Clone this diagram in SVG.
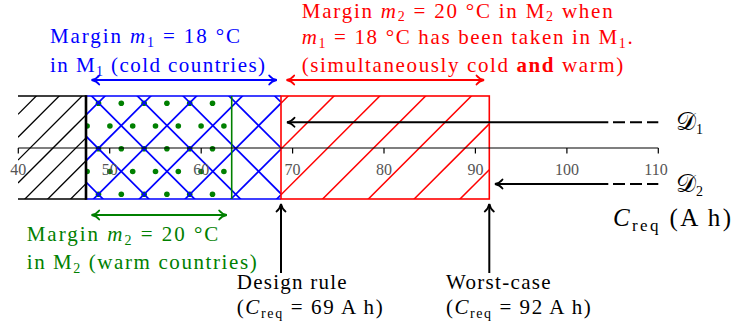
<svg xmlns="http://www.w3.org/2000/svg" width="734" height="332" viewBox="0 0 734 332">
<style>
.t{font-size:21px}
.i{font-style:italic}
.s{font-size:14px}
.b{font-weight:bold}
.tick{font-size:16px;fill:#555;text-anchor:middle}
.cal{font-size:25px}
.blue{fill:#0000ff}.red{fill:#ff0000}.green{fill:#008000}.blk{fill:#000}
</style>
<defs>
<clipPath id="cb"><rect x="18" y="96" width="68" height="103"/></clipPath>
<clipPath id="cbl"><rect x="86" y="96" width="195" height="103"/></clipPath>
<clipPath id="cg"><rect x="86" y="96" width="145.7" height="103"/></clipPath>
<clipPath id="cr"><rect x="281" y="96" width="208.3" height="103"/></clipPath>
<marker id="ak" viewBox="-9 -6 11 12" refX="0" refY="0" markerWidth="11" markerHeight="12" markerUnits="userSpaceOnUse" orient="auto-start-reverse"><path d="M-7.5,-4.5 C-6,-2.5 -2.5,-0.6 0,0 C-2.5,0.6 -6,2.5 -7.5,4.5" fill="none" stroke="#000" stroke-width="1.8" stroke-linecap="round"/></marker>
<marker id="abl" viewBox="-9 -6 11 12" refX="0" refY="0" markerWidth="11" markerHeight="12" markerUnits="userSpaceOnUse" orient="auto-start-reverse"><path d="M-7.5,-4.5 C-6,-2.5 -2.5,-0.6 0,0 C-2.5,0.6 -6,2.5 -7.5,4.5" fill="none" stroke="#0000ff" stroke-width="1.8" stroke-linecap="round"/></marker>
<marker id="ar" viewBox="-9 -6 11 12" refX="0" refY="0" markerWidth="11" markerHeight="12" markerUnits="userSpaceOnUse" orient="auto-start-reverse"><path d="M-7.5,-4.5 C-6,-2.5 -2.5,-0.6 0,0 C-2.5,0.6 -6,2.5 -7.5,4.5" fill="none" stroke="#ff0000" stroke-width="1.8" stroke-linecap="round"/></marker>
<marker id="ag" viewBox="-9 -6 11 12" refX="0" refY="0" markerWidth="11" markerHeight="12" markerUnits="userSpaceOnUse" orient="auto-start-reverse"><path d="M-7.5,-4.5 C-6,-2.5 -2.5,-0.6 0,0 C-2.5,0.6 -6,2.5 -7.5,4.5" fill="none" stroke="#008000" stroke-width="1.8" stroke-linecap="round"/></marker>
</defs>

<g id="region-black">
<g clip-path="url(#cb)" stroke="#000" stroke-width="1.3">
<line x1="18" y1="114.3" x2="86" y2="46.3"/>
<line x1="18" y1="137.2" x2="86" y2="69.2"/>
<line x1="18" y1="160.1" x2="86" y2="92.1"/>
<line x1="18" y1="183" x2="86" y2="115"/>
<line x1="18" y1="205.9" x2="86" y2="137.9"/>
<line x1="18" y1="228.8" x2="86" y2="160.8"/>
<line x1="18" y1="251.7" x2="86" y2="183.7"/>
<line x1="18" y1="274.6" x2="86" y2="206.6"/>
</g>
<path d="M18,96 H86 M18,199 H86" stroke="#000" stroke-width="1.6" fill="none"/>
</g>

<g id="region-green-dots" clip-path="url(#cg)" fill="#008000">
<circle cx="98.5" cy="103.3" r="2.8"/><circle cx="121.3" cy="103.3" r="2.8"/><circle cx="144.1" cy="103.3" r="2.8"/><circle cx="166.9" cy="103.3" r="2.8"/><circle cx="189.7" cy="103.3" r="2.8"/><circle cx="212.5" cy="103.3" r="2.8"/>
<circle cx="87.1" cy="126" r="2.8"/><circle cx="109.9" cy="126" r="2.8"/><circle cx="132.7" cy="126" r="2.8"/><circle cx="155.5" cy="126" r="2.8"/><circle cx="178.3" cy="126" r="2.8"/><circle cx="201.1" cy="126" r="2.8"/><circle cx="223.9" cy="126" r="2.8"/>
<circle cx="98.5" cy="148.7" r="2.8"/><circle cx="121.3" cy="148.7" r="2.8"/><circle cx="144.1" cy="148.7" r="2.8"/><circle cx="166.9" cy="148.7" r="2.8"/><circle cx="189.7" cy="148.7" r="2.8"/><circle cx="212.5" cy="148.7" r="2.8"/>
<circle cx="87.1" cy="171.5" r="2.8"/><circle cx="109.9" cy="171.5" r="2.8"/><circle cx="132.7" cy="171.5" r="2.8"/><circle cx="155.5" cy="171.5" r="2.8"/><circle cx="178.3" cy="171.5" r="2.8"/><circle cx="201.1" cy="171.5" r="2.8"/><circle cx="223.9" cy="171.5" r="2.8"/>
<circle cx="98.5" cy="194.3" r="2.8"/><circle cx="121.3" cy="194.3" r="2.8"/><circle cx="144.1" cy="194.3" r="2.8"/><circle cx="166.9" cy="194.3" r="2.8"/><circle cx="189.7" cy="194.3" r="2.8"/><circle cx="212.5" cy="194.3" r="2.8"/>
</g>

<g id="region-blue">
<g clip-path="url(#cbl)" stroke="#0000ff" stroke-width="1.7">
<line x1="86" y1="-92.8" x2="281" y2="102.2"/>
<line x1="86" y1="-47" x2="281" y2="148"/>
<line x1="86" y1="-1.2" x2="281" y2="193.8"/>
<line x1="86" y1="44.6" x2="281" y2="239.6"/>
<line x1="86" y1="90.4" x2="281" y2="285.4"/>
<line x1="86" y1="136.2" x2="281" y2="331.2"/>
<line x1="86" y1="182" x2="281" y2="377"/>
<line x1="86" y1="115" x2="281" y2="-80"/>
<line x1="86" y1="160.8" x2="281" y2="-34.2"/>
<line x1="86" y1="206.6" x2="281" y2="11.6"/>
<line x1="86" y1="252.4" x2="281" y2="57.4"/>
<line x1="86" y1="298.2" x2="281" y2="103.2"/>
<line x1="86" y1="344" x2="281" y2="149"/>
<line x1="86" y1="389.8" x2="281" y2="194.8"/>
</g>
<path d="M86,96 H281 M86,199 H281" stroke="#0000ff" stroke-width="1.7" fill="none"/>
<line x1="231.7" y1="96" x2="231.7" y2="199" stroke="#008000" stroke-width="1.6"/>
<line x1="86" y1="95.2" x2="86" y2="199.8" stroke="#000" stroke-width="2.6"/>
</g>

<g id="region-red">
<g clip-path="url(#cr)" stroke="#ff0000" stroke-width="1.5">
<line x1="281" y1="103.2" x2="489.3" y2="-105.1"/>
<line x1="281" y1="149" x2="489.3" y2="-59.3"/>
<line x1="281" y1="194.8" x2="489.3" y2="-13.5"/>
<line x1="281" y1="240.6" x2="489.3" y2="32.3"/>
<line x1="281" y1="286.4" x2="489.3" y2="78.1"/>
<line x1="281" y1="332.2" x2="489.3" y2="123.9"/>
<line x1="281" y1="378" x2="489.3" y2="169.7"/>
</g>
<rect x="281" y="96" width="208.3" height="103" fill="none" stroke="#ff0000" stroke-width="1.6"/>
</g>

<g id="axis">
<path d="M18.3,148 H658.3 M18.3,148 V153.5 M109.7,148 V153.5 M201.2,148 V153.5 M292.6,148 V153.5 M384,148 V153.5 M475.4,148 V153.5 M566.9,148 V153.5 M658.3,148 V153.5" stroke="#000" stroke-width="1.2" fill="none"/>
<g font-family="Liberation Serif, DejaVu Serif, serif">
<text class="tick" x="18.3" y="175">40</text>
<text class="tick" x="109.7" y="175">50</text>
<text class="tick" x="201.2" y="175">60</text>
<text class="tick" x="292.6" y="175">70</text>
<text class="tick" x="384" y="175">80</text>
<text class="tick" x="475.4" y="175">90</text>
<text class="tick" x="566.9" y="175">100</text>
<text class="tick" x="656" y="175">110</text>
</g>
</g>

<g id="connectors" fill="none" stroke-width="2">
<path d="M91.7,80 H276.7" stroke="#0000ff" marker-start="url(#abl)" marker-end="url(#abl)"/>
<path d="M286.7,80 H484" stroke="#ff0000" marker-start="url(#ar)" marker-end="url(#ar)"/>
<path d="M91.7,215 H226.7" stroke="#008000" marker-start="url(#ag)" marker-end="url(#ag)"/>
<path d="M608.3,122.3 H287" stroke="#000" marker-end="url(#ak)"/>
<path d="M613,122.3 H658.3" stroke="#000" stroke-dasharray="12 5"/>
<path d="M608.3,184 H495" stroke="#000" marker-end="url(#ak)"/>
<path d="M613,184 H658.3" stroke="#000" stroke-dasharray="12 5"/>
<path d="M281,273 V204" stroke="#000" marker-end="url(#ak)"/>
<path d="M489.3,273 V204" stroke="#000" marker-end="url(#ak)"/>
</g>

<g font-family="Liberation Serif, DejaVu Serif, serif">
<g id="label-m1-blue" class="t blue">
<text x="50" y="43" textLength="190" lengthAdjust="spacing">Margin <tspan class="i">m</tspan><tspan class="s" dy="4">1</tspan><tspan dy="-4"> = 18 °C</tspan></text>
<text x="50" y="72" textLength="215" lengthAdjust="spacing">in M<tspan class="s" dy="4">1</tspan><tspan dy="-4"> (cold countries)</tspan></text>
</g>

<g id="label-m2-red" class="t red">
<text x="301.7" y="18" textLength="311" lengthAdjust="spacing">Margin <tspan class="i">m</tspan><tspan class="s" dy="3">2</tspan><tspan dy="-3"> = 20 °C in M</tspan><tspan class="s" dy="3">2</tspan><tspan dy="-3"> when</tspan></text>
<text x="301.7" y="44" textLength="331" lengthAdjust="spacing"><tspan class="i">m</tspan><tspan class="s" dy="4">1</tspan><tspan dy="-4"> = 18 °C has been taken in M</tspan><tspan class="s" dy="4">1</tspan><tspan dy="-4">.</tspan></text>
<text x="301.7" y="72" textLength="321.6" lengthAdjust="spacing">(simultaneously cold <tspan class="b">and</tspan> warm)</text>
</g>

<g id="label-m2-green" class="t green">
<text x="26.7" y="241" textLength="191.6" lengthAdjust="spacing">Margin <tspan class="i">m</tspan><tspan class="s" dy="4">2</tspan><tspan dy="-4"> = 20 °C</tspan></text>
<text x="26.7" y="268.5" textLength="230" lengthAdjust="spacing">in M<tspan class="s" dy="4">2</tspan><tspan dy="-4"> (warm countries)</tspan></text>
</g>

<g id="label-design-rule" class="t blk">
<text x="236.7" y="289" textLength="110" lengthAdjust="spacing">Design rule</text>
<text x="236.7" y="314" textLength="146" lengthAdjust="spacing">(<tspan class="i">C</tspan><tspan class="s" dy="4">req</tspan><tspan dy="-4"> = 69 A h)</tspan></text>
</g>

<g id="label-worst-case" class="t blk">
<text x="446" y="289" textLength="104.7" lengthAdjust="spacing">Worst-case</text>
<text x="446" y="314" textLength="144.7" lengthAdjust="spacing">(<tspan class="i">C</tspan><tspan class="s" dy="4">req</tspan><tspan dy="-4"> = 92 A h)</tspan></text>
</g>

<g id="label-d1" class="blk">
<text class="cal" x="676" y="130">𝒟<tspan class="s" dy="4">1</tspan></text>
</g>
<g id="label-d2" class="blk">
<text class="cal" x="676" y="192">𝒟<tspan class="s" dy="4">2</tspan></text>
</g>
<g id="label-axis" class="blk">
<text x="613" y="226" font-size="25" textLength="118" lengthAdjust="spacing"><tspan class="i">C</tspan><tspan font-size="17" dy="5">req</tspan><tspan dy="-5"> (A h)</tspan></text>
</g>
</g>
</svg>
